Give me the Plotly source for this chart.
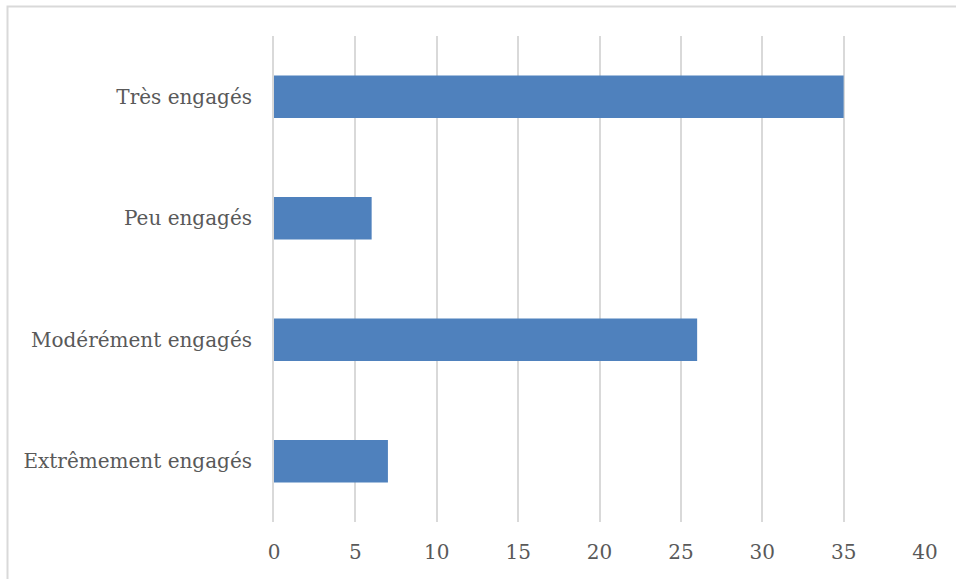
import plotly.graph_objects as go

# Engagement levels (bottom to top) and their counts
categories = ["Extrêmement engagés", "Modérément engagés", "Peu engagés", "Très engagés"]
values = [7, 26, 6, 35]
x_ticks = [0, 5, 10, 15, 20, 25, 30, 35, 40]

W, H = 956, 579
L, R, T, B = 274, 31, 36, 57
plot_w = W - L - R
plot_h = H - T - B

def px_to_paper_x(px):
    return (px - L) / plot_w

def px_to_paper_y(py):
    return (H - B - py) / plot_h

font_family = "DejaVu Serif"
text_color = "#595959"
grid_color = "#D9D9D9"

fig = go.Figure(
    go.Bar(
        x=values,
        y=categories,
        orientation="h",
        marker=dict(color="#4F81BD", line=dict(width=0)),
        hoverinfo="x+y",
    )
)

fig.update_layout(
    width=W,
    height=H,
    margin=dict(l=L, r=R, t=T, b=B, pad=0),
    paper_bgcolor="white",
    plot_bgcolor="white",
    bargap=0.65,
    showlegend=False,
    font=dict(family=font_family, size=20, color=text_color),
    xaxis=dict(
        range=[0, 40],
        tickvals=x_ticks,
        ticktext=[str(v) for v in x_ticks],
        showgrid=True,
        gridcolor=grid_color,
        gridwidth=2,
        zeroline=False,
        showline=False,
        ticks="outside",
        ticklen=12,
        tickcolor="rgba(0,0,0,0)",
        tickfont=dict(family=font_family, size=20, color=text_color),
        fixedrange=True,
    ),
    yaxis=dict(
        categoryorder="array",
        categoryarray=categories,
        showgrid=False,
        zeroline=False,
        showline=True,
        linecolor=grid_color,
        linewidth=2,
        ticks="outside",
        ticklen=16,
        tickcolor="rgba(0,0,0,0)",
        tickfont=dict(family=font_family, size=20, color=text_color),
        fixedrange=True,
    ),
    shapes=[
        # chart area frame
        dict(
            type="rect",
            xref="paper",
            yref="paper",
            x0=px_to_paper_x(7.5),
            x1=px_to_paper_x(W + 5),
            y0=px_to_paper_y(H + 5),
            y1=px_to_paper_y(6.5),
            line=dict(color="#D9D9D9", width=2),
            fillcolor="rgba(0,0,0,0)",
            layer="below",
        )
    ],
)

fig.write_html("out.html")
